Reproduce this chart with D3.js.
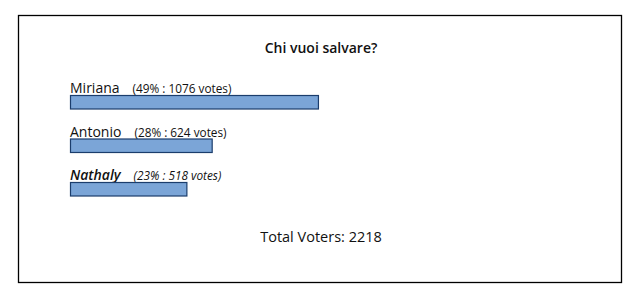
<!DOCTYPE html>
<html>
<head>
<meta charset="utf-8">
<script src="https://cdn.jsdelivr.net/npm/d3@7"></script>
<style>
  body { margin: 0; background: #fff; }
  svg text { font-family: "Open Sans", "Noto Sans", sans-serif; fill: #111; }
</style>
</head>
<body>
<div id="chart"></div>
<script>
// poll data
const names = ["Miriana", "Antonio", "Nathaly"];
const percents = [49, 28, 23];
const votes = [1076, 624, 518];
const totalVoters = 2218;
const title = "Chi vuoi salvare?";
const highlighted = "Nathaly";

const width = 639, height = 295;

const svg = d3.select("#chart").append("svg")
    .attr("width", width)
    .attr("height", height);

// outer frame
svg.append("rect")
    .attr("x", 18.5)
    .attr("y", 15.5)
    .attr("width", 603)
    .attr("height", 267)
    .attr("fill", "none")
    .attr("stroke", "#000")
    .attr("stroke-width", 1.3);

// title
svg.append("text")
    .attr("x", 321)
    .attr("y", 53)
    .attr("text-anchor", "middle")
    .style("font-size", "14px")
    .style("font-weight", "600")
    .text(title);

// scales
let xScale = d3.scaleLinear().domain([0, 100]).range([0, 506]);
let yScale = d3.scaleBand().domain(names).range([79, 209.5]).paddingInner(0).paddingOuter(0);

let rows = svg.selectAll(".row")
    .data(names.map((n, i) => ({name: n, pct: percents[i], votes: votes[i]})))
    .enter()
    .append("g")
    .attr("class", "row")
    .attr("transform", d => `translate(70, ${yScale(d.name)})`);

let label = rows.append("text")
    .attr("x", 0)
    .attr("y", 14);

label.append("tspan")
    .style("font-size", "14px")
    .style("font-style", d => d.name === highlighted ? "italic" : "normal")
    .style("font-weight", d => d.name === highlighted ? "600" : "normal")
    .text(d => d.name);

label.append("tspan")
    .attr("dx", 13)
    .style("font-size", "11.8px")
    .style("font-style", d => d.name === highlighted ? "italic" : "normal")
    .text(d => `(${d.pct}% : ${d.votes} votes)`);

rows.append("rect")
    .attr("class", "bar")
    .attr("x", 0.5)
    .attr("y", 16.5)
    .attr("width", d => xScale(d.pct))
    .attr("height", 13.5)
    .attr("fill", "#7ba5d7")
    .attr("stroke", "#1b3d6c")
    .attr("stroke-width", 1.2);

// total
svg.append("text")
    .attr("x", 321)
    .attr("y", 242)
    .attr("text-anchor", "middle")
    .style("font-size", "14.5px")
    .text("Total Voters: " + totalVoters);
</script>
</body>
</html>
